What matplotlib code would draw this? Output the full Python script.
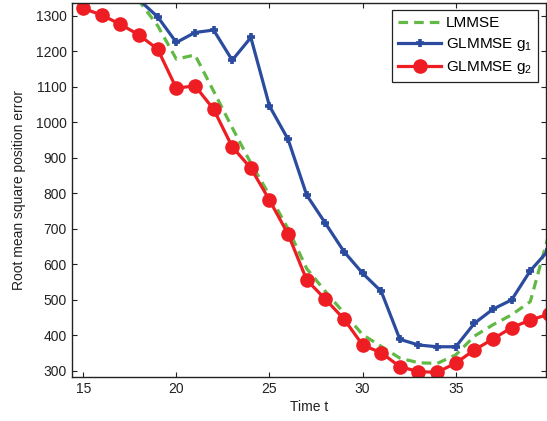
import numpy as np
import matplotlib.pyplot as plt

plt.rcParams['font.family'] = ['Liberation Sans', 'DejaVu Sans']
plt.rcParams['font.size'] = 10
plt.rcParams['mathtext.fontset'] = 'custom'
plt.rcParams['mathtext.rm'] = 'Liberation Sans'
plt.rcParams['mathtext.it'] = 'Liberation Sans'

# RMSE of the position estimate over time
t = np.arange(15, 41)
lmmse_t = [17, 18, 19, 20, 21, 22, 23, 24, 25, 26, 27, 28, 29, 30, 31, 32, 33,
           34, 35, 36, 37, 38, 39, 40]
lmmse = [1400, 1342, 1272, 1178, 1190, 1088, 985, 885, 795, 700, 588, 524,
         463, 402, 369, 336, 323, 321, 345, 398, 430, 458, 495, 685]
glmmse_g1 = [1480, 1450, 1400, 1345, 1297, 1225, 1253, 1260, 1175, 1239, 1046,
             952, 795, 716, 636, 575, 524, 389, 373, 368, 368, 434, 474, 500,
             582, 641]
glmmse_g2 = [1321, 1302, 1276, 1246, 1206, 1096, 1103, 1037, 931, 871, 781,
             685, 556, 502, 446, 373, 351, 312, 298, 296, 322, 359, 390, 422,
             443, 460]

green = '#62B946'
blue = '#2B4C9E'
red = '#EE1D23'

fig = plt.figure(figsize=(5.47, 4.21), dpi=100)
ax = fig.add_axes([0.131, 0.1038, 0.867, 0.8898])

ax.plot(lmmse_t, lmmse, color=green, lw=2.3, dashes=(3, 1.9), label='LMMSE')
ax.plot(t, glmmse_g1, color=blue, lw=2.3, marker='+', ms=6, mew=2.6,
        label='GLMMSE g$_1$')
ax.plot(t, glmmse_g2, color=red, lw=2.3, marker='o', ms=9.5, mec=red, mfc=red,
        label='GLMMSE g$_2$')

ax.set_xlim(14.38, 39.84)
ax.set_ylim(282, 1337)
ax.set_xticks([15, 20, 25, 30, 35])
ax.set_yticks(np.arange(300, 1301, 100))
ax.tick_params(direction='in', length=3.6, width=0.8, top=True, right=True,
               colors='#222222', labelcolor='#222222')
for s in ax.spines.values():
    s.set_linewidth(1.0)
    s.set_color('#222222')

ax.set_xlabel('Time t', color='#222222', labelpad=3)
ax.set_ylabel('Root mean square position error', color='#222222', labelpad=7)

leg = ax.legend(loc='upper right', borderaxespad=0.5, handlelength=2.8,
                fancybox=False, framealpha=1, edgecolor='#222222',
                borderpad=0.4, labelspacing=0.38, handletextpad=0.3,
                fontsize=11)
leg.get_frame().set_linewidth(0.9)

fig.savefig('out.png', dpi=100)
